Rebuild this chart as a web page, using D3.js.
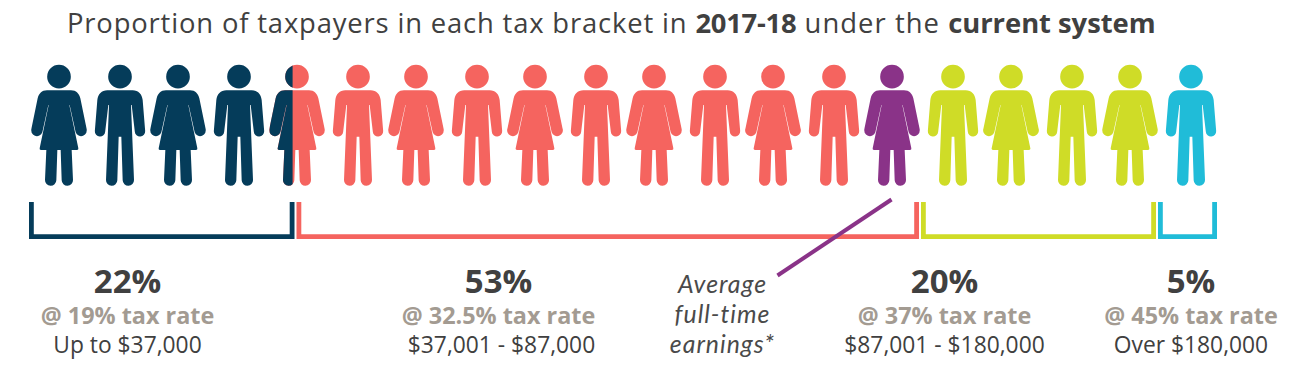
<!DOCTYPE html>
<html>
<head>
<meta charset="utf-8">
<script src="https://cdn.jsdelivr.net/npm/d3@7"></script>
<style>
  html, body { margin: 0; padding: 0; background: #fff; }
  svg { display: block; }
  text { font-family: "Open Sans", "Noto Sans", sans-serif; }
</style>
</head>
<body>
<div id="chart"></div>
<script>
// one figure = 5% of taxpayers
const genders = ["f","m","f","m","f","m","f","m","f","m","f","m","f","m","f","m","f","m","f","m"];
const personBrackets = [0,0,0,0,1,1,1,1,1,1,1,1,1,1,4,2,2,2,2,3];
const shares = [22, 53, 20, 5];
const rates = ["@ 19% tax rate", "@ 32.5% tax rate", "@ 37% tax rate", "@ 45% tax rate"];
const ranges = ["Up to $37,000", "$37,001 - $87,000", "$87,001 - $180,000", "Over $180,000"];
const averageLines = ["Average", "full-time", "earnings*"];
const splitPerson = 4;
const splitFraction = 0.42; // how much of that figure is still the first bracket

const colors = ["#053c5a", "#f5645f", "#cfdc27", "#20bcd8", "#8a3388"];
const dark = "#404040";
const muted = "#a39b92";

const width = 1298, height = 385;

// icons are drawn at 3x around x = 0, scaled down when placed
const iconScale = 1 / 3;
const head = "M-35.5 65a35.5 35.5 0 1 0 71 0a35.5 35.5 0 1 0 -71 0Z";
const icons = {
  f: head + "M-36 106H36C52 106 60 116 64 130L82.5 220A16.5 16.5 0 0 1 50 232L32 150H31L58 280Q59 285 54 285H38L42 375A17 17 0 0 1 8 376L5 285H-5L-8 376A17 17 0 0 1 -42 375L-38 285H-54Q-59 285 -58 280L-31 150H-32L-50 232A16.5 16.5 0 0 1 -82.5 220L-64 130C-60 116 -52 106 -36 106Z",
  m: head + "M-38 106H38C55 106 66 118 68 135L75.5 228A15.5 15.5 0 0 1 44.5 230L35 150H33L42 375A17 17 0 0 1 8 376L4 245H-4L-8 376A17 17 0 0 1 -42 375L-33 150H-35L-44.5 230A15.5 15.5 0 0 1 -75.5 228L-68 135C-66 118 -55 106 -38 106Z"
};
const iconHalfWidth = 82.5;

const svg = d3.select("#chart").append("svg")
  .attr("width", width)
  .attr("height", height);

// title, spacing set per run because the bold is wider in this font
const title = svg.append("text")
  .attr("x", 67)
  .attr("y", 33)
  .attr("font-size", 27.4)
  .attr("fill", dark);
title.append("tspan").attr("letter-spacing", 0.84).text("Proportion of taxpayers in each tax bracket in ");
title.append("tspan").attr("letter-spacing", -0.25).attr("font-weight", 700).text("2017-18");
title.append("tspan").attr("letter-spacing", 1.05).text(" under the ");
title.append("tspan").attr("letter-spacing", -0.04).attr("font-weight", 700).text("current system");

// figures
const personX = d3.scaleLinear().domain([0, genders.length - 1]).range([59, 1189.5]);
const genderOffset = { f: 0, m: 1.5 };

svg.append("clipPath").attr("id", "split-clip")
  .append("rect")
  .attr("x", -iconHalfWidth)
  .attr("y", 0)
  .attr("width", iconHalfWidth * 2 * splitFraction)
  .attr("height", 420);

const people = svg.append("g").selectAll("g")
  .data(genders)
  .enter().append("g")
  .attr("transform", (d, i) => `translate(${personX(i) + genderOffset[d]},55) scale(${iconScale})`);

people.append("path")
  .attr("d", d => icons[d])
  .attr("fill", (d, i) => colors[personBrackets[i]]);

people.filter((d, i) => i === splitPerson).append("path")
  .attr("d", d => icons[d])
  .attr("fill", colors[0])
  .attr("clip-path", "url(#split-clip)");

// brackets, placed along the cumulative share of taxpayers
const cumulative = [0, ...d3.cumsum(shares)];
const shareX = d3.scaleLinear().domain(cumulative).range([29, 295.5, 920, 1157, 1218]);
const bracketTop = 202, bracketBottom = 239, bracketStroke = 4.8, bracketGap = 1;

svg.append("g").selectAll("path")
  .data(shares)
  .enter().append("path")
  .attr("d", (d, i) => {
    const left = shareX(cumulative[i]) + (i ? bracketGap : 0) + bracketStroke / 2;
    const right = shareX(cumulative[i + 1]) - bracketGap - bracketStroke / 2;
    const p = d3.path();
    p.moveTo(left, bracketTop);
    p.lineTo(left, bracketBottom - bracketStroke / 2);
    p.lineTo(right, bracketBottom - bracketStroke / 2);
    p.lineTo(right, bracketTop);
    return p.toString();
  })
  .attr("fill", "none")
  .attr("stroke", (d, i) => colors[i])
  .attr("stroke-width", bracketStroke);

// pointer from the average earner to its note
svg.append("line")
  .attr("x1", 891.5).attr("y1", 199.5)
  .attr("x2", 777.5).attr("y2", 275.5)
  .attr("stroke", colors[4])
  .attr("stroke-width", 4);

// bracket labels
const labelX = [127.5, 498.5, 944.5, 1191];
const labels = svg.append("g").attr("text-anchor", "middle").selectAll("g")
  .data(shares)
  .enter().append("g")
  .attr("transform", (d, i) => `translate(${labelX[i]},0)`);

labels.append("text")
  .attr("y", 293)
  .attr("font-size", 33)
  .attr("font-weight", 700)
  .attr("fill", dark)
  .text(d => d + "%");

labels.append("text")
  .attr("y", 324)
  .attr("font-size", 23.4)
  .attr("font-weight", 700)
  .attr("fill", muted)
  .text((d, i) => rates[i]);

labels.append("text")
  .attr("x", (d, i) => i === 1 ? 3 : 0)
  .attr("y", 353)
  .attr("font-size", 22.8)
  .attr("fill", dark)
  .text((d, i) => ranges[i]);

// note, in Lato because its line box fits the 30px leading
svg.append("g").attr("text-anchor", "middle").selectAll("text")
  .data(averageLines)
  .enter().append("text")
  .attr("x", 722.5)
  .attr("y", (d, i) => 293 + i * 30)
  .attr("font-size", 24.8)
  .attr("font-style", "italic")
  .attr("letter-spacing", 1)
  .attr("fill", "#4a4a4a")
  .style("font-family", "Lato, 'Open Sans', sans-serif")
  .text(d => d);
</script>
</body>
</html>
